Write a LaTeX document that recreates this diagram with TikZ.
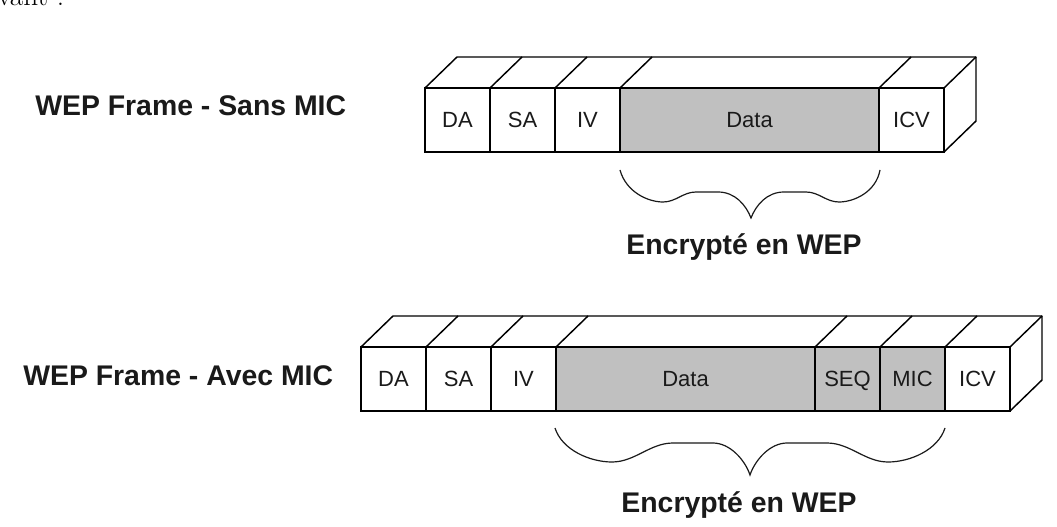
\documentclass[tikz,border=0pt]{standalone}
\usepackage{fontspec}
\setsansfont{Liberation Sans}
\usepackage{tikz}
\usetikzlibrary{positioning,calc}
\usepackage{xcolor}
\definecolor{cellGray}{HTML}{C0C0C0}
\definecolor{ink}{HTML}{1A1A1A}

\begin{document}
\begin{tikzpicture}[
  x=0.75pt, y=-0.75pt,
  field/.style={draw=black, line width=1.1pt, fill=white, minimum width=48.75pt,
                minimum height=48pt, inner sep=0pt, outer sep=0pt,
                text height=11.8pt, text depth=0pt,
                font=\sffamily\fontsize{16.5}{18}\selectfont, text=ink},
  wide/.style={field, fill=cellGray, minimum width=194.25pt},
  crypt/.style={field, fill=cellGray},
  edge3d/.style={line width=1.1pt, line join=round},
  curl/.style={line width=0.9pt, color=ink},
  title/.style={font=\sffamily\bfseries\fontsize{21.3}{24}\selectfont, text=ink, inner sep=0pt}
]
\useasboundingbox (0,0) rectangle (1057,527);
\fill[white] (0,0) rectangle (1057,527);

% cut-off line of the page above
\begin{scope}
  \clip (0,0) rectangle (1057,527);
  \node[anchor=base west, inner sep=0pt, font=\fontsize{22}{24}\selectfont] (cut) at (-3,6) {vant :};
\end{scope}

% frame without MIC
\node[title, anchor=base west] (sans) at (35,116) {WEP Frame - Sans MIC};

\node[field, anchor=north west] (da1) at (425,88) {DA};
\node[field, right=0pt of da1] (sa1) {SA};
\node[field, right=0pt of sa1] (iv1) {IV};
\node[wide, right=0pt of iv1] (data1) {Data};
\node[field, right=0pt of data1] (icv1) {ICV};

\foreach \n in {da1,sa1,iv1,data1,icv1}
  \draw[edge3d] (\n.north west) -- ++(32,-31);
\draw[edge3d] (icv1.north east) -- ++(32,-31);
\draw[edge3d] ($(da1.north west)+(32,-31)$) -- ($(icv1.north east)+(32,-31)$)
  -- ($(icv1.south east)+(32,-31)$) -- (icv1.south east);

\draw[curl] (620,170) .. controls (626,192) and (648,202) .. (663,202)
  .. controls (676,202) and (683,192) .. (696,192) -- (718,192)
  .. controls (735,192) and (746,205) .. (751,218)
  .. controls (756,205) and (767,192) .. (784,192) -- (806,192)
  .. controls (819,192) and (826,202) .. (839,202)
  .. controls (854,202) and (876,192) .. (880,170);

\node[title, anchor=base] (enc1) at (744,255) {Encrypté en WEP};

% frame with MIC
\node[title, anchor=base west] (avec) at (23,385) {WEP Frame - Avec MIC};

\node[field, anchor=north west] (da2) at (361,347) {DA};
\node[field, right=0pt of da2] (sa2) {SA};
\node[field, right=0pt of sa2] (iv2) {IV};
\node[wide, right=0pt of iv2] (data2) {Data};
\node[crypt, right=0pt of data2] (seq2) {SEQ};
\node[crypt, right=0pt of seq2] (mic2) {MIC};
\node[field, right=0pt of mic2] (icv2) {ICV};

\foreach \n in {da2,sa2,iv2,data2,seq2,mic2,icv2}
  \draw[edge3d] (\n.north west) -- ++(32,-31);
\draw[edge3d] (icv2.north east) -- ++(32,-31);
\draw[edge3d] ($(da2.north west)+(32,-31)$) -- ($(icv2.north east)+(32,-31)$)
  -- ($(icv2.south east)+(32,-31)$) -- (icv2.south east);

\draw[curl] (555,428) .. controls (562,450) and (590,462) .. (612,462)
  .. controls (635,462) and (650,443) .. (673,443) -- (713,443)
  .. controls (730,443) and (745,460) .. (750,475)
  .. controls (755,460) and (770,443) .. (787,443) -- (827,443)
  .. controls (850,443) and (865,462) .. (888,462)
  .. controls (910,462) and (938,450) .. (945,428);

\node[title, anchor=base] (enc2) at (739,512) {Encrypté en WEP};

\end{tikzpicture}
\end{document}
